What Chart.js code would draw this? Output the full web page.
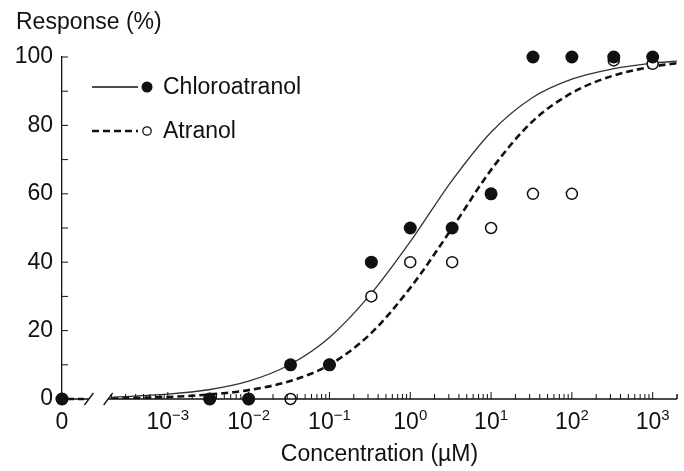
<!DOCTYPE html>
<html>
<head>
<meta charset="utf-8">
<script src="https://cdn.jsdelivr.net/npm/chart.js@4"></script>
<style>
  html, body { margin: 0; padding: 0; background: #fff; }
</style>
</head>
<body>
<canvas id="myChart" width="684" height="471"></canvas>
<script>
// measured points (concentration in uM, 0 = vehicle control)
const concentrations = [0, 0.0033, 0.01, 0.033, 0.1, 0.33, 1, 3.3, 10, 33, 100, 330, 1000];
const chloroatranol = [0, 0, 0, 10, 10, 40, 50, 50, 60, 100, 100, 100, 100];
const atranol = [0, 0, 0, 0, 10, 30, 40, 40, 50, 60, 60, 99, 98];

// fitted curves, every half decade
const fitConcentrations = [0.0002, 0.001, 0.0032, 0.01, 0.032, 0.1, 0.32, 1, 3.2, 10, 32, 100, 320, 1000, 2000];
const chloroatranolFit = [0.5, 1.4, 2.7, 5.2, 10, 18, 30.5, 46, 63.5, 78, 88, 93.5, 96.5, 98.2, 98.8];
const atranolFit = [0.2, 0.6, 1.3, 2.6, 5.2, 10, 19, 32.5, 49.5, 67, 81, 89.5, 94.5, 97.2, 98.2];

const seriesNames = ['Chloroatranol', 'Atranol'];
const decadeExponents = [-3, -2, -1, 0, 1, 2, 3];
const yLabelStep = 20;

// where "0" sits on the log axis, and the axis break
const ZERO_AT = 4.9e-5;
const X_MAX = 2000;
const BREAK_FROM = 1.07e-4;
const BREAK_TO = 1.8e-4;

const FONT = '"Liberation Sans", Arial, Helvetica, sans-serif';
const INK = '#111';

function pairs(xs, ys) {
    return xs.map((c, i) => ({ x: c === 0 ? ZERO_AT : c, y: ys[i] }));
}

// x tick positions: the zero, then 1..9 x 10^d after the break
const xTickValues = [ZERO_AT];
for (let d = -4; d <= 3; d++) {
    for (let m = 1; m <= 9; m++) {
        const v = m * Math.pow(10, d);
        if (v > BREAK_TO && v <= X_MAX) xTickValues.push(v);
    }
}
xTickValues.push(X_MAX);

const axisDecor = {
    id: 'axisDecor',
    afterDraw(chart) {
        const { ctx, chartArea, scales: { x, y } } = chart;
        const y0 = y.getPixelForValue(0);
        const left = x.getPixelForValue(ZERO_AT);
        const right = x.getPixelForValue(X_MAX);
        const b1 = x.getPixelForValue(BREAK_FROM);
        const b2 = x.getPixelForValue(BREAK_TO);
        ctx.save();
        ctx.strokeStyle = INK;
        ctx.lineWidth = 1.3;
        // x axis with break
        ctx.beginPath();
        ctx.moveTo(left, y0); ctx.lineTo(b1, y0);
        ctx.moveTo(b2, y0); ctx.lineTo(right, y0);
        ctx.moveTo(b1 - 5, y0 + 6); ctx.lineTo(b1 + 4, y0 - 6);
        ctx.moveTo(b2 - 4, y0 + 6); ctx.lineTo(b2 + 5, y0 - 6);
        ctx.stroke();
        // dashed control segment before the break
        ctx.setLineDash([6, 4]);
        ctx.lineWidth = 2.4;
        ctx.beginPath();
        ctx.moveTo(left + 6, y0); ctx.lineTo(b1 - 3, y0);
        ctx.stroke();
        ctx.setLineDash([]);

        // inward tick marks
        ctx.lineWidth = 1;
        ctx.beginPath();
        x.ticks.forEach(t => {
            if (t.value === ZERO_AT) return;
            const px = x.getPixelForValue(t.value);
            const lg = Math.log10(t.value);
            const major = Math.abs(lg - Math.round(lg)) < 1e-6;
            ctx.moveTo(px, y0);
            ctx.lineTo(px, y0 - (major ? 7 : 5));
        });
        y.ticks.forEach(t => {
            const py = y.getPixelForValue(t.value);
            ctx.moveTo(left, py);
            ctx.lineTo(left + 6, py);
        });
        ctx.stroke();

        // x tick labels with superscript exponents
        ctx.fillStyle = INK;
        ctx.textBaseline = 'alphabetic';
        const base = y0 + 30;
        ctx.font = '23px ' + FONT;
        ctx.textAlign = 'center';
        ctx.fillText('0', left, base);
        decadeExponents.forEach(e => {
            const px = x.getPixelForValue(Math.pow(10, e));
            const exp = String(e).replace('-', '\u2212');
            ctx.font = '23px ' + FONT;
            const w1 = ctx.measureText('10').width;
            ctx.font = '15px ' + FONT;
            const w2 = ctx.measureText(exp).width;
            const start = px - (w1 + w2) / 2;
            ctx.textAlign = 'left';
            ctx.font = '23px ' + FONT;
            ctx.fillText('10', start, base);
            ctx.font = '15px ' + FONT;
            ctx.fillText(exp, start + w1, base - 9);
        });

        // x axis title
        ctx.font = '23px ' + FONT;
        ctx.textAlign = 'center';
        ctx.fillText('Concentration (\u00b5M)', (chartArea.left + chartArea.right) / 2 + 10, y0 + 62);

        // legend inside the plot
        const rows = [
            { y: 87, dash: [], width: 1.3, filled: true },
            { y: 131, dash: [7, 4], width: 2.6, filled: false }
        ];
        rows.forEach((r, i) => {
            ctx.setLineDash(r.dash);
            ctx.lineWidth = r.width;
            ctx.beginPath();
            ctx.moveTo(92, r.y);
            ctx.lineTo(138, r.y);
            ctx.stroke();
            ctx.setLineDash([]);
            ctx.beginPath();
            if (r.filled) {
                ctx.arc(147, r.y, 5.5, 0, Math.PI * 2);
                ctx.fill();
            } else {
                ctx.lineWidth = 1.3;
                ctx.arc(147, r.y, 4.2, 0, Math.PI * 2);
                ctx.stroke();
            }
            ctx.font = '23px ' + FONT;
            ctx.textAlign = 'left';
            ctx.textBaseline = 'middle';
            ctx.fillText(seriesNames[i], 163, r.y + 1);
            ctx.textBaseline = 'alphabetic';
        });
        ctx.restore();
    }
};

const ctx = document.getElementById('myChart').getContext('2d');
const chart = new Chart(ctx, {
    type: 'scatter',
    data: {
        datasets: [
            {
                label: seriesNames[0],
                data: pairs(concentrations, chloroatranol),
                pointRadius: 6.5,
                pointBackgroundColor: INK,
                pointBorderColor: INK,
                pointBorderWidth: 0,
                clip: false
            },
            {
                label: seriesNames[1],
                data: pairs(concentrations, atranol),
                pointRadius: 5.5,
                pointBackgroundColor: '#fff',
                pointBorderColor: INK,
                pointBorderWidth: 1.5,
                clip: false
            },
            {
                label: seriesNames[0] + ' fit',
                data: pairs(fitConcentrations, chloroatranolFit),
                showLine: true,
                pointRadius: 0,
                borderColor: '#333',
                borderWidth: 1.3,
                cubicInterpolationMode: 'monotone'
            },
            {
                label: seriesNames[1] + ' fit',
                data: pairs(fitConcentrations, atranolFit),
                showLine: true,
                pointRadius: 0,
                borderColor: INK,
                borderWidth: 2.6,
                borderDash: [7, 4],
                cubicInterpolationMode: 'monotone'
            }
        ]
    },
    options: {
        responsive: false,
        animation: false,
        devicePixelRatio: 1,
        layout: { padding: { left: 16, right: 1, top: 0, bottom: 0 } },
        font: { family: FONT },
        plugins: {
            legend: { display: false },
            tooltip: { enabled: false },
            title: {
                display: true,
                text: 'Response (%)',
                align: 'start',
                color: INK,
                font: { family: FONT, size: 23, weight: 'normal' },
                padding: { top: 9, bottom: 20.4 }
            }
        },
        scales: {
            x: {
                type: 'logarithmic',
                min: ZERO_AT,
                max: X_MAX,
                afterBuildTicks: scale => { scale.ticks = xTickValues.map(v => ({ value: v })); },
                afterFit: scale => { scale.height = 72; },
                ticks: { display: false },
                grid: { display: false, drawTicks: false },
                border: { display: false }
            },
            y: {
                min: 0,
                max: 100,
                afterFit: scale => { scale.width = 46; },
                ticks: {
                    stepSize: 10,
                    color: INK,
                    padding: 9,
                    font: { family: FONT, size: 23 },
                    callback: v => (v % yLabelStep === 0 ? v : '')
                },
                grid: { display: false, drawTicks: false },
                border: { display: true, color: INK, width: 1.3 }
            }
        }
    },
    plugins: [axisDecor]
});
</script>
</body>
</html>
